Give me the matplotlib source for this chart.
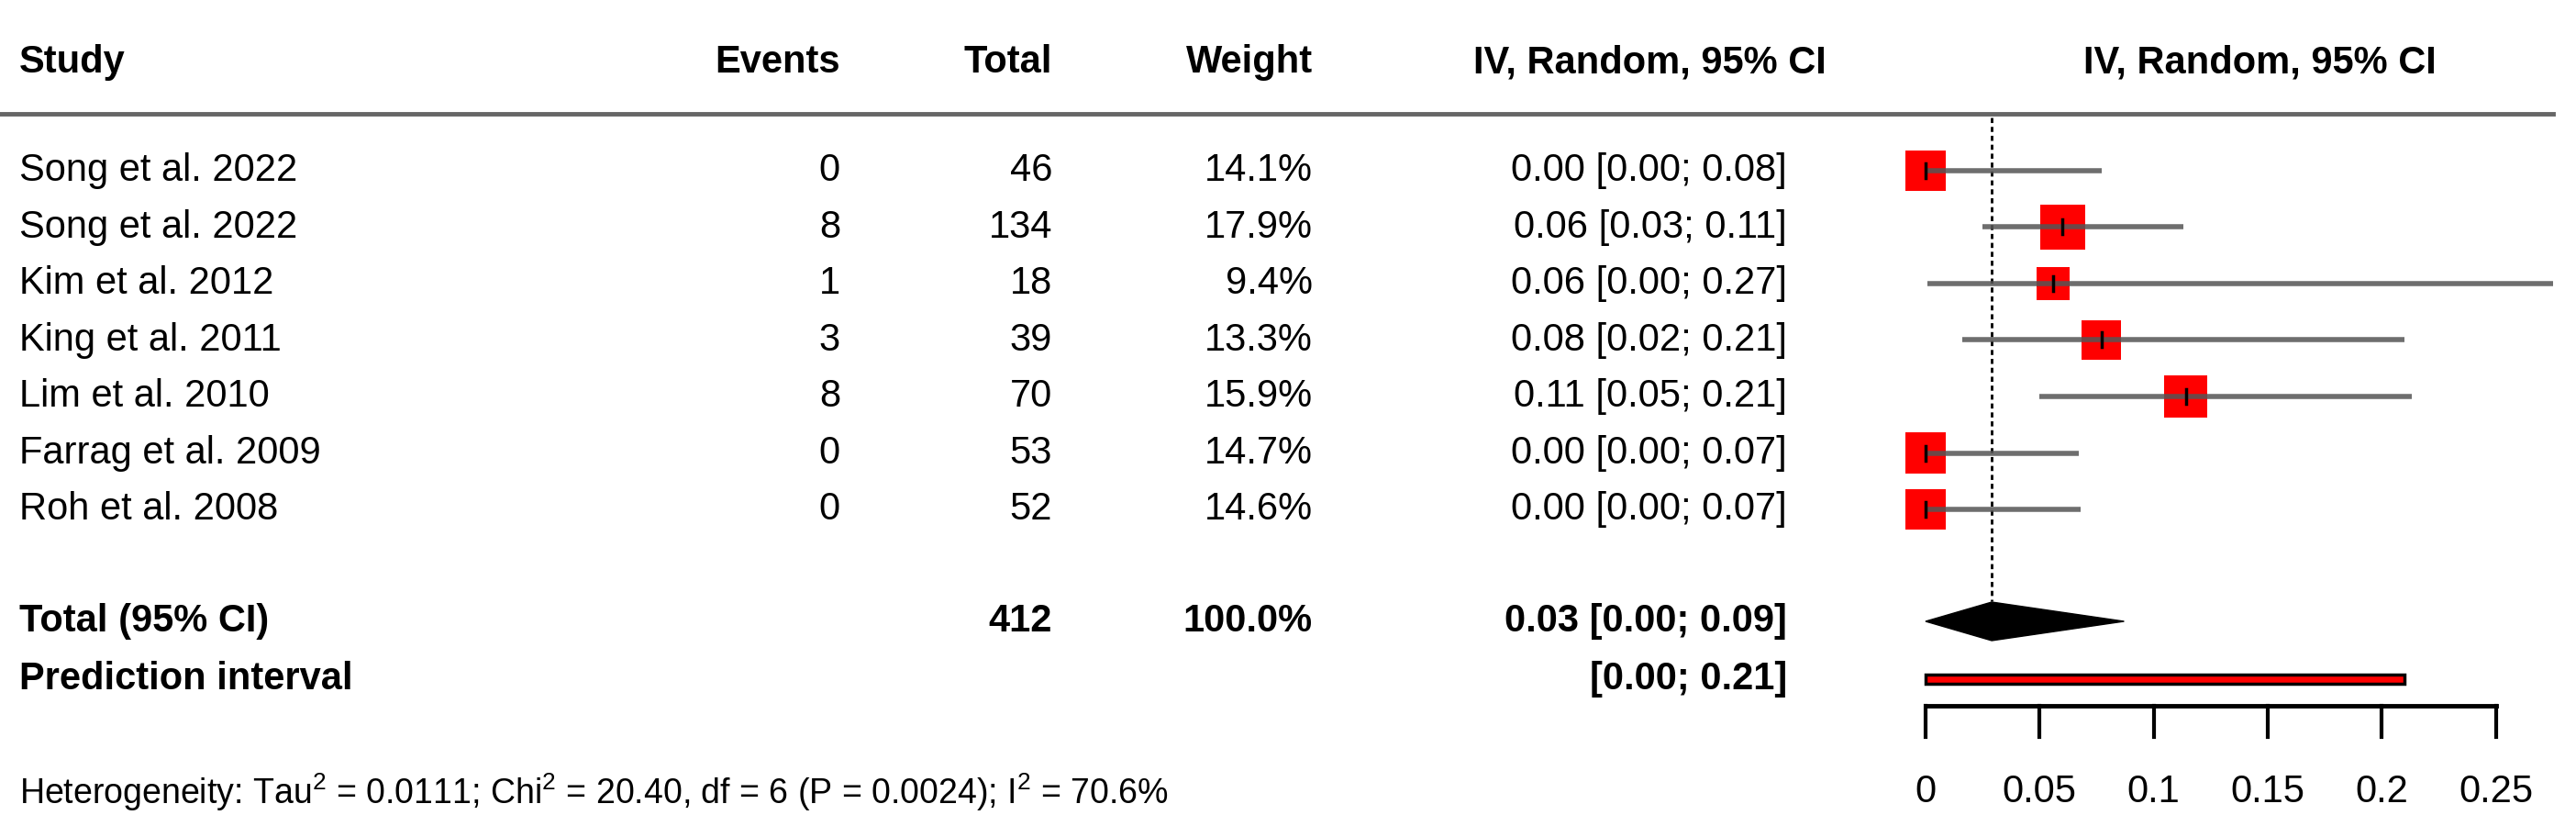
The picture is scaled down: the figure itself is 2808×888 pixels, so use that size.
import matplotlib
matplotlib.use("Agg")
import matplotlib.pyplot as plt
from matplotlib.patches import Rectangle, Polygon

plt.rcParams['font.family'] = ['Liberation Sans', 'DejaVu Sans']
plt.rcParams['mathtext.fontset'] = 'custom'
plt.rcParams['mathtext.rm'] = 'Liberation Sans'

studies = ["Song et al. 2022", "Song et al. 2022", "Kim et al. 2012", "King et al. 2011",
           "Lim et al. 2010", "Farrag et al. 2009", "Roh et al. 2008"]
events = [0, 8, 1, 3, 8, 0, 0]
totals = [46, 134, 18, 39, 70, 53, 52]
weights = [14.1, 17.9, 9.4, 13.3, 15.9, 14.7, 14.6]
ci_text = ["0.00 [0.00; 0.08]", "0.06 [0.03; 0.11]", "0.06 [0.00; 0.27]", "0.08 [0.02; 0.21]",
           "0.11 [0.05; 0.21]", "0.00 [0.00; 0.07]", "0.00 [0.00; 0.07]"]
est = [0.0, 0.060, 0.056, 0.077, 0.114, 0.0, 0.0]
lo = [0.0, 0.025, 0.001, 0.016, 0.050, 0.0, 0.0]
hi = [0.077, 0.113, 0.30, 0.210, 0.213, 0.067, 0.068]
pooled, pooled_lo, pooled_hi = 0.029, 0.0, 0.087
pred_lo, pred_hi = 0.0, 0.21
ticks = [0, 0.05, 0.1, 0.15, 0.2, 0.25]
tick_labels = ["0", "0.05", "0.1", "0.15", "0.2", "0.25"]

W, H = 2808, 888
fig = plt.figure(figsize=(W / 100, H / 100), dpi=100)
# background axes in pixel coordinates for the table text
bg = fig.add_axes([0, 0, 1, 1])
bg.set_xlim(0, W)
bg.set_ylim(H, 0)
bg.axis('off')

fs = 30
row_y = [186 + 61.5 * i for i in range(len(studies))]
hy = 68
bg.text(21, hy, "Study", fontsize=fs, weight='bold', va='center')
bg.text(916, hy, "Events", fontsize=fs, weight='bold', va='center', ha='right')
bg.text(1147, hy, "Total", fontsize=fs, weight='bold', va='center', ha='right')
bg.text(1431, hy, "Weight", fontsize=fs, weight='bold', va='center', ha='right')
bg.text(1798, hy, "IV, Random, 95% CI", fontsize=fs, weight='bold', va='center', ha='center')
bg.text(2463, hy, "IV, Random, 95% CI", fontsize=fs, weight='bold', va='center', ha='center')
bg.plot([0, 2783], [124, 124], color='#666666', lw=3.5)

for i, y in enumerate(row_y):
    bg.text(21, y, studies[i], fontsize=fs, va='center')
    bg.text(916, y, str(events[i]), fontsize=fs, va='center', ha='right')
    bg.text(1147, y, str(totals[i]), fontsize=fs, va='center', ha='right')
    bg.text(1431, y, f"{weights[i]:.1f}%", fontsize=fs, va='center', ha='right')
    bg.text(1948, y, ci_text[i], fontsize=fs, va='center', ha='right')

ty, py = 677, 740
bg.text(21, ty, "Total (95% CI)", fontsize=fs, weight='bold', va='center')
bg.text(1147, ty, str(sum(totals)), fontsize=fs, weight='bold', va='center', ha='right')
bg.text(1431, ty, "100.0%", fontsize=fs, weight='bold', va='center', ha='right')
bg.text(1948, ty, "0.03 [0.00; 0.09]", fontsize=fs, weight='bold', va='center', ha='right')
bg.text(21, py, "Prediction interval", fontsize=fs, weight='bold', va='center')
bg.text(1948, py, "[0.00; 0.21]", fontsize=fs, weight='bold', va='center', ha='right')
bg.text(21, 863, "Heterogeneity: Tau$^2$ = 0.0111; Chi$^2$ = 20.40, df = 6 (P = 0.0024); I$^2$ = 70.6%",
        fontsize=27, va='center')

# forest axes: x=0 at px 2099, x=0.275 at px 2783
x0, x1 = 2099, 2783
ax = fig.add_axes([x0 / W, 0, (x1 - x0) / W, 1])
ax.set_xlim(0, 0.275)
ax.set_ylim(H, 0)
ax.axis('off')
ppx = 0.275 / (x1 - x0)  # data units per pixel

ax.plot([pooled, pooled], [128, 655], color='black', lw=2, ls=(0, (2, 1.5)))
for i, y in enumerate(row_y):
    half = 1.55 * weights[i] ** 0.5 * 3.75
    ax.add_patch(Rectangle((est[i] - half * ppx, y - half), 2 * half * ppx, 2 * half,
                           color='red', lw=0, zorder=2, clip_on=False))
    ax.plot([lo[i], min(hi[i], 0.275)], [y, y], color='#555555', lw=4, alpha=0.85, zorder=3,
            solid_capstyle='butt', clip_on=False)
    ax.plot([est[i], est[i]], [y - 8, y + 8], color='black', lw=2.5, zorder=4, clip_on=False)

ax.add_patch(Polygon([[pooled_lo, ty], [pooled, ty - 21], [pooled_hi, ty], [pooled, ty + 21]],
                     closed=True, color='black', clip_on=False))
ax.add_patch(Rectangle((pred_lo, py - 5), pred_hi - pred_lo, 10, facecolor='red',
                       edgecolor='black', lw=2.5, clip_on=False))

ay = 769
ax.plot([0, 0.25], [ay, ay], color='black', lw=3.5, solid_capstyle='projecting', clip_on=False)
for t, lab in zip(ticks, tick_labels):
    ax.plot([t, t], [ay, ay + 34], color='black', lw=3, clip_on=False)
    ax.text(t, 863, lab, fontsize=fs, ha='center', va='center')

fig.savefig("out.png", dpi=100)
